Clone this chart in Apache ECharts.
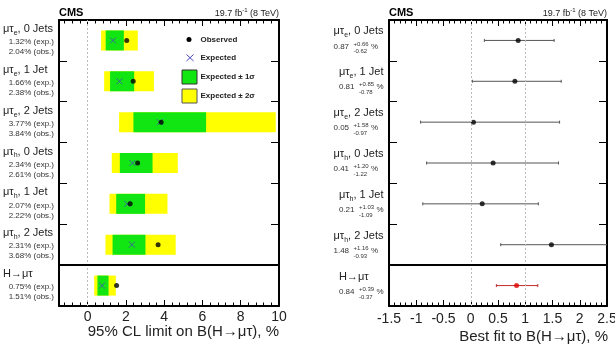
<!DOCTYPE html>
<html>
<head>
<meta charset="utf-8">
<script src="https://cdn.jsdelivr.net/npm/echarts@6/dist/echarts.min.js"></script>
<style>
  html, body { margin: 0; padding: 0; background: #fff; }
  #main { width: 615px; height: 352px; }
</style>
</head>
<body>
<div id="main"></div>
<script>
const FONT = "'Liberation Sans', Arial, Helvetica, sans-serif"

// 分类
const categories = ['μτe, 0 Jets', 'μτe, 1 Jet', 'μτe, 2 Jets', 'μτh, 0 Jets', 'μτh, 1 Jet', 'μτh, 2 Jets', 'H→μτ']

// 95% CL 上限 (%)
const expLimit = [1.32, 1.66, 3.77, 2.34, 2.07, 2.31, 0.75]
const obsLimit = [2.04, 2.38, 3.84, 2.61, 2.22, 3.68, 1.51]
const band1Low = [0.94, 1.17, 2.39, 1.68, 1.49, 1.30, 0.51]
const band1High = [1.89, 2.43, 6.19, 3.39, 3.00, 3.02, 1.09]
const band2Low = [0.70, 0.86, 1.64, 1.26, 1.14, 0.93, 0.34]
const band2High = [2.62, 3.46, 9.83, 4.71, 4.17, 4.60, 1.47]

// 最佳拟合 (%)
const bestFit = [0.87, 0.81, 0.05, 0.41, 0.21, 1.48, 0.84]
const fitErrUp = [0.66, 0.85, 1.58, 1.20, 1.03, 1.16, 0.39]
const fitErrDown = [0.62, 0.78, 0.97, 1.22, 1.09, 0.93, 0.37]

// 刻度
const limitTicks = [0, 2, 4, 6, 8, 10]
const fitTicks = [-1.5, -1, -0.5, 0, 0.5, 1, 1.5, 2, 2.5]

const GREEN = '#12e612'
const YELLOW = '#ffff00'
const EXP_COLOR = '#4646c0'
const lastRow = categories.length - 1

// 左图的次刻度 (每0.4)
const limitMinorTicks = []
for (let v = -1.2; v < 10; v += 0.4) {
  const r = Math.round(v * 10) / 10
  if (Math.abs(r / 2 - Math.round(r / 2)) > 1e-6) limitMinorTicks.push(r)
}

// 测量文字宽度
const ctx = document.createElement('canvas').getContext('2d')
function textWidth (text, size) {
  ctx.font = size + 'px ' + FONT
  return ctx.measureText(text).width
}
function labelWidth (name) {
  const m = name.match(/^μτ([eh])(.*)$/)
  if (!m) return textWidth(name, 11)
  return textWidth('μτ' + m[2], 11) + textWidth(m[1], 7)
}
function richLabel (name) {
  return name.replace(/^μτ([eh])/, 'μτ{sub|$1}')
}
const labelRich = { sub: { fontSize: 7, fontFamily: FONT, fill: '#222', padding: [8, 0, 0, 0] } }

// 左图: 置信带
function renderBand (params, api) {
  const row = api.value(2) + 0.5
  const lo = api.coord([api.value(0), row])
  const hi = api.coord([api.value(1), row])
  const h = api.size([0, 1])[1] * 0.49
  return {
    type: 'rect',
    shape: { x: lo[0], y: lo[1] - h / 2, width: hi[0] - lo[0], height: h },
    style: { fill: api.visual('color') }
  }
}

// 左图: 行标签
function renderLimitLabel (params, api) {
  const i = api.value(1)
  const y = api.coord([0, i + 0.5])[1]
  const x0 = params.coordSys.x
  const sub = { fontFamily: FONT, fontSize: 8, fill: '#333', align: 'right', verticalAlign: 'middle' }
  return {
    type: 'group',
    children: [
      { type: 'text', x: x0 - 56, y: y - 11.5,
        style: { text: richLabel(categories[i]), fontFamily: FONT, fontSize: 11, fill: '#222', align: 'left', verticalAlign: 'middle', rich: labelRich } },
      { type: 'text', x: x0 - 5, y: y + 1.5, style: Object.assign({ text: expLimit[i].toFixed(2) + '% (exp.)' }, sub) },
      { type: 'text', x: x0 - 5, y: y + 11.5, style: Object.assign({ text: obsLimit[i].toFixed(2) + '% (obs.)' }, sub) }
    ]
  }
}

// 右图: 误差棒
function renderErrorBar (params, api) {
  const i = api.value(2)
  const cs = params.coordSys
  const y = api.coord([0, i + 0.5])[1]
  const x1 = api.coord([api.value(0), 0])[0]
  const x2 = api.coord([api.value(1), 0])[0]
  const color = i === lastRow ? '#c42a2a' : '#555'
  const style = { stroke: color, lineWidth: 1 }
  const children = [{ type: 'line', shape: { x1: Math.max(x1, cs.x), y1: y, x2: Math.min(x2, cs.x + cs.width), y2: y }, style }]
  if (x1 >= cs.x) children.push({ type: 'line', shape: { x1: x1, y1: y - 1.5, x2: x1, y2: y + 1.5 }, style })
  if (x2 <= cs.x + cs.width) children.push({ type: 'line', shape: { x1: x2, y1: y - 1.5, x2: x2, y2: y + 1.5 }, style })
  return { type: 'group', children }
}

// 右图: 行标签
function renderFitLabel (params, api) {
  const i = api.value(1)
  const y = api.coord([0, i + 0.5])[1]
  const right = params.coordSys.x - 5.5
  const name = categories[i]
  const val = bestFit[i].toFixed(2)
  const up = '+' + fitErrUp[i].toFixed(2)
  const down = '-' + fitErrDown[i].toFixed(2)
  const wVal = textWidth(val, 8)
  const wErr = Math.max(textWidth(up, 6), textWidth(down, 6))
  const lineW = wVal + 4.4 + wErr + 2.3 + textWidth('%', 8)
  const left = right - Math.max(labelWidth(name), lineW)
  const base = { fontFamily: FONT, fill: '#333', align: 'left', verticalAlign: 'middle' }
  return {
    type: 'group',
    children: [
      { type: 'text', x: left, y: y - 9,
        style: { text: richLabel(name), fontFamily: FONT, fontSize: 11, fill: '#222', align: 'left', verticalAlign: 'middle', rich: labelRich } },
      { type: 'text', x: left, y: y + 6, style: Object.assign({ text: val, fontSize: 8 }, base) },
      { type: 'text', x: left + wVal + 4.4, y: y + 3.5, style: Object.assign({ text: up, fontSize: 6 }, base) },
      { type: 'text', x: left + wVal + 4.4, y: y + 11.3, style: Object.assign({ text: down, fontSize: 6 }, base) },
      { type: 'text', x: left + wVal + 4.4 + wErr + 2.3, y: y + 6, style: Object.assign({ text: '%', fontSize: 8 }, base) }
    ]
  }
}

const frameLine = { show: true, onZero: false, lineStyle: { color: '#000', width: 2 } }
const tickStyle = { color: '#000', width: 1 }

function limitAxis (position, showLabel) {
  return {
    type: 'value', gridIndex: 0, position, min: -1.5, max: 10,
    axisLine: frameLine,
    axisTick: { inside: true, length: 6, customValues: limitTicks, lineStyle: tickStyle },
    axisLabel: { show: showLabel, customValues: limitTicks, fontFamily: FONT, fontSize: 14, color: '#222', margin: 4 },
    splitLine: { show: false }
  }
}
function limitMinorAxis (position) {
  return {
    type: 'value', gridIndex: 2, position, min: -1.5, max: 10,
    axisLine: { show: false, onZero: false },
    axisTick: { inside: true, length: 3.5, customValues: limitMinorTicks, lineStyle: tickStyle },
    axisLabel: { show: false },
    splitLine: { show: false }
  }
}
function fitAxis (position, showLabel) {
  return {
    type: 'value', gridIndex: 1, position, min: -1.5, max: 2.5, interval: 0.5,
    axisLine: frameLine,
    axisTick: { inside: true, length: 6, lineStyle: tickStyle },
    minorTick: { show: true, splitNumber: 5, length: 3.5, lineStyle: tickStyle },
    axisLabel: { show: showLabel, customValues: fitTicks, fontFamily: FONT, fontSize: 14, color: '#222', margin: 6 },
    splitLine: { show: false },
    minorSplitLine: { show: false }
  }
}
function rowAxis (gridIndex, position) {
  return {
    type: 'value', gridIndex, position, min: 0, max: categories.length, interval: 1, inverse: true,
    axisLine: frameLine,
    axisTick: { inside: true, length: 8, lineStyle: tickStyle },
    axisLabel: { show: false },
    splitLine: { show: false }
  }
}

const dotted = { type: [2, 2], color: '#bbb', width: 1 }
const divider = { type: 'solid', color: '#000', width: 2 }

const legendText = { fontFamily: FONT, fontSize: 8, fontWeight: 'bold', fill: '#222', verticalAlign: 'middle' }

const chart = echarts.init(document.getElementById('main'))

chart.setOption({
  animation: false,
  textStyle: { fontFamily: FONT },
  title: [
    { text: 'CMS', left: 59, top: 6, padding: 0, textStyle: { fontFamily: FONT, fontSize: 11, fontWeight: 'bold', color: '#000', lineHeight: 13 } },
    { text: 'CMS', left: 389, top: 6, padding: 0, textStyle: { fontFamily: FONT, fontSize: 11, fontWeight: 'bold', color: '#000', lineHeight: 13 } },
    { text: '19.7 fb{sup|-1} (8 TeV)', right: 336, top: 7, padding: 0,
      textStyle: { fontFamily: FONT, fontSize: 9, fontWeight: 'normal', color: '#222', lineHeight: 13, rich: { sup: { fontFamily: FONT, fontSize: 6, color: '#222', padding: [0, 0, 6, 0] } } } },
    { text: '19.7 fb{sup|-1} (8 TeV)', right: 8, top: 7, padding: 0,
      textStyle: { fontFamily: FONT, fontSize: 9, fontWeight: 'normal', color: '#222', lineHeight: 13, rich: { sup: { fontFamily: FONT, fontSize: 6, color: '#222', padding: [0, 0, 6, 0] } } } },
    { text: '95% CL limit on B(H→μτ), %', right: 336, top: 324, padding: 0, textStyle: { fontFamily: FONT, fontSize: 15, fontWeight: 'normal', color: '#222', lineHeight: 16 } },
    { text: 'Best fit to B(H→μτ), %', right: 7, top: 329, padding: 0, textStyle: { fontFamily: FONT, fontSize: 15, fontWeight: 'normal', color: '#222', lineHeight: 16 } }
  ],
  grid: [
    { left: 59, top: 20, width: 220, height: 286, outerBoundsMode: 'none' },
    { left: 389, top: 20, width: 218, height: 286, outerBoundsMode: 'none' },
    { left: 59, top: 20, width: 220, height: 286, outerBoundsMode: 'none' }
  ],
  xAxis: [
    limitAxis('bottom', true),
    limitAxis('top', false),
    fitAxis('bottom', true),
    fitAxis('top', false),
    limitMinorAxis('bottom'),
    limitMinorAxis('top')
  ],
  yAxis: [
    rowAxis(0, 'left'),
    rowAxis(0, 'right'),
    rowAxis(1, 'left'),
    rowAxis(1, 'right'),
    { type: 'value', gridIndex: 2, show: false, min: 0, max: categories.length }
  ],
  series: [
    {
      name: 'Expected ± 2σ', type: 'custom', xAxisIndex: 0, yAxisIndex: 0,
      renderItem: renderBand, itemStyle: { color: YELLOW }, silent: true,
      encode: { x: [0, 1], y: 2 },
      data: band2Low.map((lo, i) => [lo, band2High[i], i])
    },
    {
      name: 'Expected ± 1σ', type: 'custom', xAxisIndex: 0, yAxisIndex: 0,
      renderItem: renderBand, itemStyle: { color: GREEN }, silent: true,
      encode: { x: [0, 1], y: 2 },
      data: band1Low.map((lo, i) => [lo, band1High[i], i])
    },
    {
      name: 'Expected', type: 'scatter', xAxisIndex: 0, yAxisIndex: 0,
      symbol: 'path://M0,0L10,10M10,0L0,10', symbolSize: 6,
      itemStyle: { color: 'none', borderColor: EXP_COLOR, borderWidth: 1 },
      data: expLimit.map((v, i) => [v, i + 0.5])
    },
    {
      name: 'Observed', type: 'scatter', xAxisIndex: 0, yAxisIndex: 0,
      symbol: 'circle', symbolSize: 5, itemStyle: { color: '#000' },
      data: obsLimit.map((v, i) => [v, i + 0.5]),
      markLine: {
        silent: true, symbol: ['none', 'none'], label: { show: false },
        data: [{ xAxis: 0, lineStyle: dotted }, { yAxis: lastRow, lineStyle: divider }]
      }
    },
    {
      type: 'custom', xAxisIndex: 0, yAxisIndex: 0, silent: true, clip: false,
      renderItem: renderLimitLabel,
      encode: { x: 0, y: 1 },
      data: categories.map((c, i) => [0, i])
    },
    {
      name: 'Best fit error', type: 'custom', xAxisIndex: 2, yAxisIndex: 2, silent: true,
      renderItem: renderErrorBar,
      encode: { x: [0, 1], y: 2 },
      data: bestFit.map((v, i) => [v - fitErrDown[i], v + fitErrUp[i], i])
    },
    {
      name: 'Best fit', type: 'scatter', xAxisIndex: 2, yAxisIndex: 2,
      symbol: 'circle', symbolSize: 5, itemStyle: { color: '#000' },
      data: bestFit.map((v, i) => ({ value: [v, i + 0.5], itemStyle: i === lastRow ? { color: '#e00000' } : undefined })),
      markLine: {
        silent: true, symbol: ['none', 'none'], label: { show: false },
        data: [{ xAxis: 0, lineStyle: dotted }, { xAxis: 1, lineStyle: dotted }, { yAxis: lastRow, lineStyle: divider }]
      }
    },
    {
      type: 'custom', xAxisIndex: 2, yAxisIndex: 2, silent: true, clip: false,
      renderItem: renderFitLabel,
      encode: { x: 0, y: 1 },
      data: categories.map((c, i) => [0, i])
    }
  ],
  // 图例
  graphic: [
    { type: 'circle', shape: { cx: 189, cy: 39.5, r: 2.5 }, style: { fill: '#000' } },
    { type: 'text', x: 200.5, y: 39.5, style: Object.assign({ text: 'Observed' }, legendText) },
    { type: 'line', shape: { x1: 186.5, y1: 54.5, x2: 193.5, y2: 61 }, style: { stroke: EXP_COLOR, lineWidth: 1 } },
    { type: 'line', shape: { x1: 193.5, y1: 54.5, x2: 186.5, y2: 61 }, style: { stroke: EXP_COLOR, lineWidth: 1 } },
    { type: 'text', x: 200.5, y: 57.5, style: Object.assign({ text: 'Expected' }, legendText) },
    { type: 'rect', shape: { x: 182, y: 70, width: 15, height: 14 }, style: { fill: GREEN, stroke: '#333', lineWidth: 1 } },
    { type: 'text', x: 200.5, y: 77, style: Object.assign({ text: 'Expected ± 1σ' }, legendText) },
    { type: 'rect', shape: { x: 182, y: 89, width: 15, height: 14 }, style: { fill: YELLOW, stroke: '#555', lineWidth: 1 } },
    { type: 'text', x: 200.5, y: 96, style: Object.assign({ text: 'Expected ± 2σ' }, legendText) }
  ]
})
</script>
</body>
</html>
